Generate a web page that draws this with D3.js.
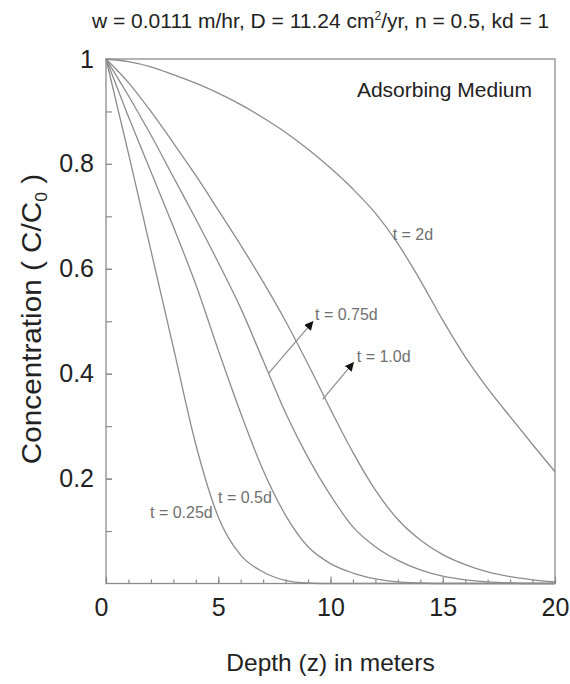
<!DOCTYPE html>
<html>
<head>
<meta charset="utf-8">
<script src="https://cdn.jsdelivr.net/npm/d3@7"></script>
<style>
  html, body { margin: 0; padding: 0; background: #fff; }
  svg { display: block; }
  text { font-family: "Liberation Sans", Arial, Helvetica, sans-serif; }
</style>
</head>
<body>
<svg id="chart" width="570" height="684"></svg>
<script>
// Depth below the surface (m) and relative concentration C/C0 for each elapsed time
const depth = [0, 1, 2, 3, 4, 5, 6, 7, 8, 9, 10, 11, 12, 13, 14, 15, 16, 17, 18, 19, 20];
const conc025 = [1, 0.82, 0.635, 0.45, 0.265, 0.127, 0.054, 0.022, 0.006, 0.001, 0, 0, 0, 0, 0, 0, 0, 0, 0, 0, 0];
const conc05  = [1, 0.89, 0.785, 0.68, 0.57, 0.445, 0.325, 0.216, 0.13, 0.07, 0.038, 0.02, 0.009, 0.003, 0.001, 0, 0, 0, 0, 0, 0];
const conc075 = [1, 0.93, 0.855, 0.775, 0.695, 0.612, 0.525, 0.425, 0.325, 0.24, 0.168, 0.108, 0.07, 0.044, 0.026, 0.014, 0.007, 0.003, 0.001, 0, 0];
const conc10  = [1, 0.955, 0.9, 0.84, 0.778, 0.712, 0.645, 0.575, 0.5, 0.418, 0.332, 0.25, 0.178, 0.122, 0.083, 0.055, 0.036, 0.022, 0.013, 0.007, 0.003];
const conc2   = [1, 0.995, 0.985, 0.97, 0.954, 0.935, 0.913, 0.888, 0.86, 0.828, 0.792, 0.752, 0.706, 0.648, 0.578, 0.502, 0.432, 0.372, 0.318, 0.265, 0.213];

const seriesNames = ["t = 0.25d", "t = 0.5d", "t = 0.75d", "t = 1.0d", "t = 2d"];
const seriesValues = [conc025, conc05, conc075, conc10, conc2];

// Axis ticks
const xMajorTicks = [0, 5, 10, 15, 20];
const xMinorTicks = d3.range(0, 21, 1);
const yMajorTicks = [0.2, 0.4, 0.6, 0.8, 1];
const yMinorTicks = [0.1, 0.2, 0.3, 0.4, 0.5, 0.6, 0.7, 0.8, 0.9];

// Curve label anchors in data units [depth, concentration]
const labelAnchors = [[1.96, 0.125], [4.99, 0.153], [9.31, 0.502], [11.17, 0.423], [12.77, 0.655]];
// Leader arrows: [from depth, from conc, to depth, to conc]
const arrows = [[7.23, 0.40, 9.21, 0.499], [9.65, 0.351, 11.02, 0.421]];

const svg = d3.select("#chart");
const plot = { left: 106, right: 555, top: 59, bottom: 583.5 };

const x = d3.scaleLinear().domain([0, 20]).range([plot.left, plot.right]);
const y = d3.scaleLinear().domain([0, 1]).range([plot.bottom, plot.top]);

const gray = "#8c8c8c";
const ink = "#222";

// Arrowhead marker
svg.append("defs").append("marker")
  .attr("id", "head")
  .attr("viewBox", "0 0 10 10")
  .attr("refX", 9).attr("refY", 5)
  .attr("markerWidth", 9).attr("markerHeight", 9)
  .attr("markerUnits", "userSpaceOnUse")
  .attr("orient", "auto")
  .append("path").attr("d", "M0,0 L10,5 L0,10 z").attr("fill", "#111");

// Frame
svg.append("rect")
  .attr("x", plot.left).attr("y", plot.top)
  .attr("width", plot.right - plot.left).attr("height", plot.bottom - plot.top)
  .attr("fill", "none").attr("stroke", gray).attr("stroke-width", 1.3);

// Minor ticks (inward, unlabeled)
const xMinor = svg.append("g").attr("transform", `translate(0,${plot.bottom})`)
  .call(d3.axisBottom(x).tickValues(xMinorTicks).tickSizeInner(-4).tickSizeOuter(0).tickFormat(""));
const yMinor = svg.append("g").attr("transform", `translate(${plot.left},0)`)
  .call(d3.axisLeft(y).tickValues(yMinorTicks).tickSizeInner(-6).tickSizeOuter(0).tickFormat(""));

// Major ticks with labels
const xMajor = svg.append("g").attr("transform", `translate(0,${plot.bottom})`)
  .call(d3.axisBottom(x).tickValues(xMajorTicks).tickSizeInner(-7).tickSizeOuter(0).tickPadding(15).tickFormat(d3.format("d")));
const yMajor = svg.append("g").attr("transform", `translate(${plot.left},0)`)
  .call(d3.axisLeft(y).tickValues(yMajorTicks).tickSizeInner(-6).tickSizeOuter(0).tickPadding(12).tickFormat(d => d === 1 ? "1" : d3.format(".1f")(d)));

[xMinor, yMinor, xMajor, yMajor].forEach(g => {
  g.select(".domain").remove();
  g.selectAll(".tick line").attr("stroke", gray).attr("stroke-width", 1.2);
});
[xMajor, yMajor].forEach(g => {
  g.selectAll(".tick text")
    .attr("fill", ink)
    .style("font-family", '"Liberation Sans", Arial, sans-serif')
    .style("font-size", "25px");
});
// the origin label sits a little left of its tick
xMajor.selectAll(".tick text").filter(d => d === 0).attr("dx", -5);

// Concentration profiles
const line = d3.line()
  .x((d, i) => x(depth[i]))
  .y(d => y(d))
  .curve(d3.curveMonotoneX);

svg.append("g").selectAll("path")
  .data(seriesValues)
  .join("path")
  .attr("d", d => line(d))
  .attr("fill", "none")
  .attr("stroke", gray)
  .attr("stroke-width", 1.3);

// Curve labels
svg.append("g").selectAll("text")
  .data(seriesNames)
  .join("text")
  .attr("x", (d, i) => x(labelAnchors[i][0]))
  .attr("y", (d, i) => y(labelAnchors[i][1]))
  .attr("fill", "#707070")
  .style("font-size", "16px")
  .text(d => d);

// Leader arrows
svg.append("g").selectAll("line")
  .data(arrows)
  .join("line")
  .attr("x1", d => x(d[0])).attr("y1", d => y(d[1]))
  .attr("x2", d => x(d[2])).attr("y2", d => y(d[3]))
  .attr("stroke", gray).attr("stroke-width", 1.2)
  .attr("marker-end", "url(#head)");

// Panel note
svg.append("text")
  .attr("x", 532).attr("y", 97)
  .attr("text-anchor", "end")
  .attr("fill", ink)
  .style("font-size", "21px")
  .text("Adsorbing Medium");

// Title with superscript
const title = svg.append("text")
  .attr("x", 92).attr("y", 28)
  .attr("fill", ink)
  .style("font-size", "21px");
title.append("tspan").text("w = 0.0111 m/hr, D = 11.24 cm");
title.append("tspan").attr("dy", -8).style("font-size", "12px").text("2");
title.append("tspan").attr("dy", 8).text("/yr, n = 0.5, kd = 1");

// Axis titles
svg.append("text")
  .attr("x", (plot.left + plot.right) / 2).attr("y", 671)
  .attr("text-anchor", "middle")
  .attr("fill", ink)
  .style("font-size", "24.5px")
  .text("Depth (z) in meters");

const yTitle = svg.append("text")
  .attr("transform", `translate(41,319) rotate(-90) scale(1.1,1)`)
  .attr("text-anchor", "middle")
  .attr("fill", ink)
  .style("font-size", "27px");
yTitle.append("tspan").text("Concentration ( C/C");
yTitle.append("tspan").attr("dy", 6).style("font-size", "16px").text("0");
yTitle.append("tspan").attr("dy", -6).text(" )");
</script>
</body>
</html>
